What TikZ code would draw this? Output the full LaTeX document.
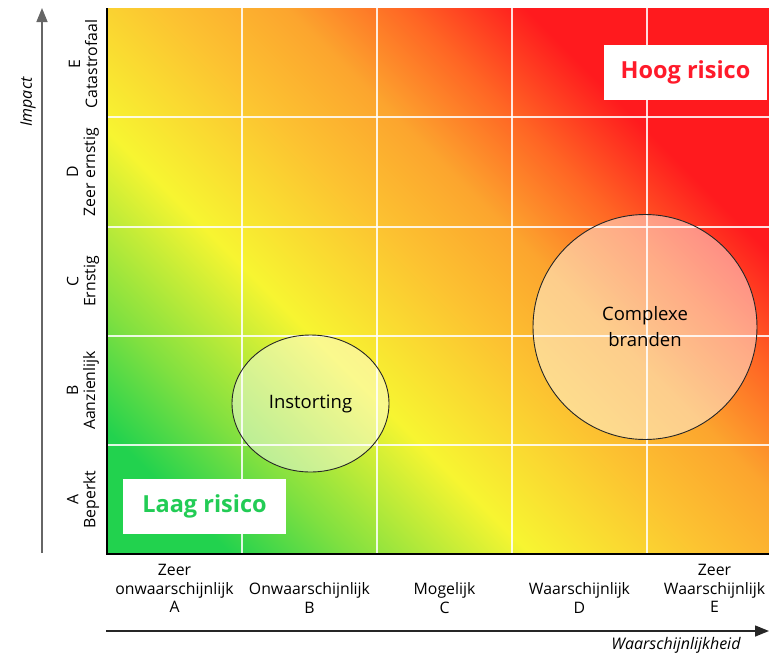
\documentclass[tikz,border=0pt]{standalone}
\usepackage{fontspec}
\setmainfont{Open Sans}
\usepackage{xcolor}
\usepackage{tikz}
\usetikzlibrary{shapes.geometric, arrows.meta}
\definecolor{riskgreen}{HTML}{22D24E}
\definecolor{risklime}{HTML}{80E040}
\definecolor{riskyellow}{HTML}{F7F531}
\definecolor{riskamber}{HTML}{FCC231}
\definecolor{riskorange}{HTML}{FCA52E}
\definecolor{riskvermilion}{HTML}{FF6624}
\definecolor{riskred}{HTML}{FF1A1E}
\definecolor{labelgreen}{HTML}{22CC55}
\definecolor{labelred}{HTML}{FF1A2A}
\pgfdeclarehorizontalshading{risico}{100bp}{
  color(0bp)=(riskgreen); color(14.6bp)=(riskgreen);
  color(21.7bp)=(riskgreen); color(28.8bp)=(risklime);
  color(39.4bp)=(riskyellow); color(50bp)=(riskamber);
  color(57.1bp)=(riskorange); color(64.1bp)=(riskvermilion);
  color(71.2bp)=(riskred); color(100bp)=(riskred)}
\tikzstyle{gridline} = [white, line width=1.2pt, opacity=0.85]
\tikzstyle{border} = [black, line width=2.5pt]
\tikzstyle{axis} = [line width=1.5pt, -{Triangle[length=14pt,width=11pt]}]
\tikzstyle{xlabel} = [align=center, font=\fontsize{15.8}{18.5}\selectfont]
\tikzstyle{ylabel} = [align=center, rotate=90, font=\fontsize{15.8}{17}\selectfont]
\tikzstyle{axistitle} = [font=\fontsize{16}{18}\selectfont\itshape]
\tikzstyle{scenario} = [ellipse, draw=black!85, line width=0.9pt, fill=white, fill opacity=0.45, text opacity=1, inner sep=0pt, align=center, font=\fontsize{18.5}{26}\selectfont]
\tikzstyle{riskbox} = [rectangle, fill=white, minimum width=163pt, minimum height=55pt, font=\fontsize{23.5}{26}\selectfont\bfseries]

\begin{document}
\begin{tikzpicture}[x=1pt, y=-1pt]
   \useasboundingbox (0,0) rectangle (769,654);
   % matrix
   \shade [shading=risico, shading angle=45] (107,8) rectangle (769,554);
   \draw [gridline] (242,8) -- (242,554);
   \draw [gridline] (377,8) -- (377,554);
   \draw [gridline] (512,8) -- (512,554);
   \draw [gridline] (647,8) -- (647,554);
   \draw [gridline] (107,117) -- (769,117);
   \draw [gridline] (107,227) -- (769,227);
   \draw [gridline] (107,336) -- (769,336);
   \draw [gridline] (107,445) -- (769,445);
   \draw [border] (107,8) -- (107,554) -- (769,554);

   \node (hoog) [riskbox, text=labelred] at (685.5,72.5) {Hoog risico};
   \node (laag) [riskbox, text=labelgreen] at (204.5,506) {Laag risico};

   \node (instorting) [scenario, minimum width=157pt, minimum height=137pt] at (310.5,403.5) {Instorting};
   \node (complex) [scenario, minimum width=224pt, minimum height=225pt] at (645,327) {Complexe\\branden};

   % axes
   \coordinate (impfoot) at (42,553);
   \coordinate (imptip) at (42,8);
   \draw [axis, draw=black!60] (impfoot) -- (imptip);
   \coordinate (probfoot) at (106,631);
   \coordinate (probtip) at (769,631);
   \draw [axis, draw=black!85] (probfoot) -- (probtip);
   \node (impact) [axistitle, rotate=90] at (28,102) {Impact};
   \node (waarsch) [axistitle] at (676,645) {Waarschijnlijkheid};

   \node (impE) [ylabel] at (83,64) {E\\Catastrofaal};
   \node (impD) [ylabel] at (83,172) {D\\Zeer ernstig};
   \node (impC) [ylabel] at (83,281.5) {C\\Ernstig};
   \node (impB) [ylabel] at (83,390.5) {B\\Aanzienlijk};
   \node (impA) [ylabel] at (83,499.5) {A\\Beperkt};

   \node (probA) [xlabel] at (174.5,588.5) {Zeer\\onwaarschijnlijk\\A};
   \node (probB) [xlabel] at (309.5,598) {Onwaarschijnlijk\\B};
   \node (probC) [xlabel] at (444.5,598) {Mogelijk\\C};
   \node (probD) [xlabel] at (579.5,598) {Waarschijnlijk\\D};
   \node (probE) [xlabel] at (714.5,588.5) {Zeer\\Waarschijnlijk\\E};
\end{tikzpicture}
\end{document}
